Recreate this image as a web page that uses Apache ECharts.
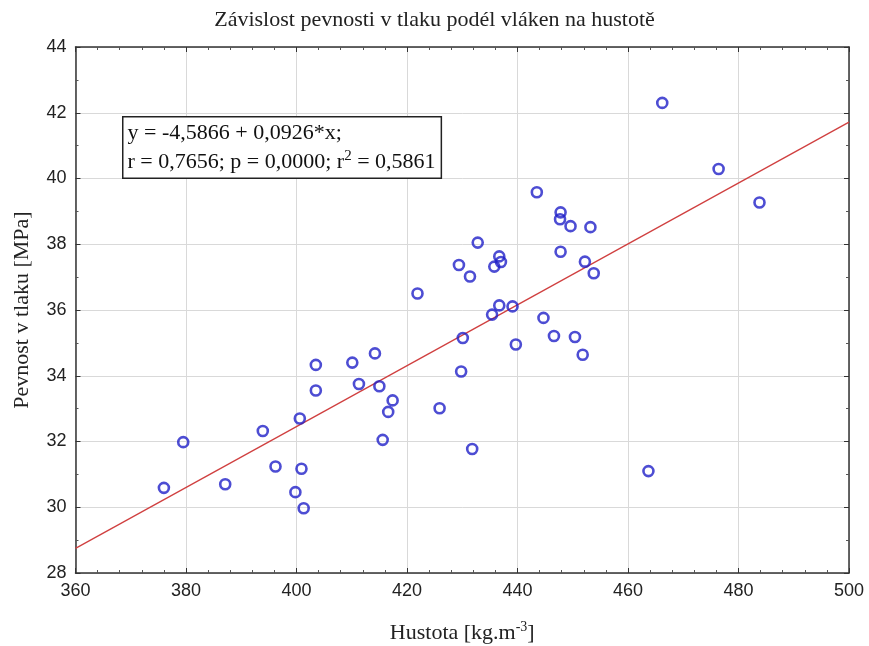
<!DOCTYPE html>
<html><head><meta charset="utf-8">
<script src="https://cdn.jsdelivr.net/npm/echarts@6/dist/echarts.min.js"></script>
<style>html,body{margin:0;padding:0;background:#fff}#c{width:869px;height:646px}</style>
</head><body><div id="c"></div>
<script>
const density = [376.0,379.5,387.1,393.9,396.2,400.6,400.9,399.8,401.3,403.5,403.5,410.1,411.3,414.2,415.0,417.4,416.6,415.6,421.9,425.9,430.1,429.8,436.7,439.1,435.4,444.7,439.7,446.6,450.4,451.8,431.8,463.7,466.2,476.4,483.8,443.5,447.8,447.7,449.6,453.2,432.8,429.4,431.4,436.7,437.0,435.8,447.8,452.2,453.8];
const strength = [30.59,31.98,30.70,32.32,31.24,32.70,31.17,30.46,29.97,34.33,33.55,34.40,33.75,34.68,33.68,33.25,32.90,32.05,36.50,33.01,35.15,34.13,36.14,36.11,35.86,35.76,34.95,35.21,35.18,34.64,31.77,31.10,42.30,40.29,39.27,39.58,38.97,38.76,38.55,38.52,38.05,37.37,37.02,37.63,37.46,37.32,37.77,37.47,37.12];
const intercept = -4.5866, slope = 0.0926;
const xRange = [360, 500];
const yRange = [28, 44];
const xTicks = [360,380,400,420,440,460,480,500];
const yTicks = [28,30,32,34,36,38,40,42,44];

const pts = density.map((x,i)=>[x,strength[i]]);
const fit = xRange.map(x=>[x, intercept + slope*x]);

const serif = '"Liberation Serif","Times New Roman",serif';
const sans = '"Liberation Sans",Arial,sans-serif';
const chart = echarts.init(document.getElementById('c'));
const axisBase = {
  axisLine:{show:true,lineStyle:{color:'#333',width:1.5}},
  axisTick:{show:true,inside:true,length:5,lineStyle:{color:'#333'}},
  splitLine:{show:false}
};
chart.setOption({
  animation:false,
  title:{text:'Závislost pevnosti v tlaku podél vláken na hustotě',left:'center',top:4,
    textStyle:{fontFamily:serif,fontSize:22,fontWeight:'normal',color:'#222'}},
  grid:{left:75.5,right:20,top:47,bottom:73,containLabel:false,outerBoundsMode:'none'},
  xAxis:[
    Object.assign({},axisBase,{type:'value',min:xRange[0],max:xRange[1],interval:20,position:'bottom',
      minorTick:{show:true,splitNumber:5,length:3,lineStyle:{color:'#555'}},
      splitLine:{show:true,lineStyle:{color:'#d9d9d9',width:1}},
      axisLabel:{fontFamily:sans,fontSize:18,color:'#222',margin:9},
      name:'Hustota [kg.m{sup|-3}]',nameLocation:'middle',nameGap:47,
      nameTextStyle:{fontFamily:serif,fontSize:22,color:'#222',
        rich:{sup:{fontFamily:serif,fontSize:14,color:'#222',padding:[0,0,12,0]}}}}),
    Object.assign({},axisBase,{type:'value',min:xRange[0],max:xRange[1],interval:20,position:'top',
      minorTick:{show:true,splitNumber:5,length:3,lineStyle:{color:'#555'}},
      axisLabel:{show:false}})
  ],
  yAxis:[
    Object.assign({},axisBase,{type:'value',min:yRange[0],max:yRange[1],interval:2,position:'left',
      minorTick:{show:true,splitNumber:2,length:3,lineStyle:{color:'#555'}},
      splitLine:{show:true,lineStyle:{color:'#d9d9d9',width:1}},
      axisLabel:{fontFamily:sans,fontSize:18,color:'#222',margin:9},
      name:'Pevnost v tlaku [MPa]',nameLocation:'middle',nameGap:42,nameRotate:90,
      nameTextStyle:{fontFamily:serif,fontSize:22,color:'#222'}}),
    Object.assign({},axisBase,{type:'value',min:yRange[0],max:yRange[1],interval:2,position:'right',
      minorTick:{show:true,splitNumber:2,length:3,lineStyle:{color:'#555'}},
      axisLabel:{show:false}})
  ],
  graphic:[{
    type:'text',left:122,top:116,z:100,
    style:{
      text:'y = -4,5866 + 0,0926*x;\nr = 0,7656; p = 0,0000; r{sup|2} = 0,5861',
      rich:{sup:{fontFamily:serif,fontSize:15,fill:'#111',padding:[0,0,12,0]}},
      fontFamily:serif,fontSize:22,fill:'#111',lineHeight:29,
      backgroundColor:'#fff',borderColor:'#222',borderWidth:1.5,padding:[1,5,1,4]
    }
  }],
  series:[
    {type:'line',data:fit,symbol:'none',lineStyle:{color:'#d04040',width:1.3},z:2,silent:true},
    {type:'scatter',data:pts,symbol:'circle',symbolSize:10,z:3,
      itemStyle:{color:'transparent',borderColor:'#2020c8',borderWidth:2.6}}
  ]
});
</script></body></html>
